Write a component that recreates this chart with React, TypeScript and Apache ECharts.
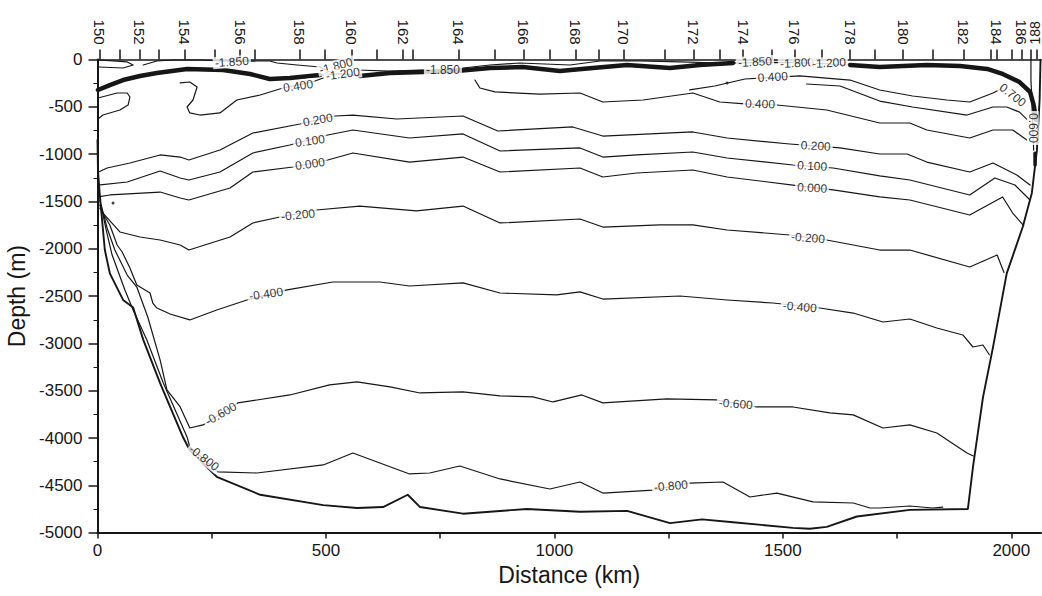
import { useEffect, useRef } from 'react';
import * as echarts from 'echarts';

const FONT = "'Liberation Sans', Arial, Helvetica, sans-serif";
const INK = '#161616';

// CTD stations along the section and their along-track distance (km)
const stationNumbers = [
  150, 151, 152, 153, 154, 155, 156, 157, 158, 159, 160, 161, 162, 163, 164, 165, 166, 167, 168, 169,
  170, 171, 172, 173, 174, 175, 176, 177, 178, 179, 180, 181, 182, 183, 184, 185, 186, 187, 188,
];
const stationKm = [
  5, 49, 93, 133, 191, 257, 312, 345, 442, 498, 556, 612, 669, 691, 790, 870, 932, 990, 1047, 1096,
  1151, 1242, 1304, 1362, 1413, 1475, 1526, 1585, 1647, 1701, 1763, 1829, 1895, 1955, 1968, 2001, 2023, 2043, 2056,
];
const labelledStationKm = stationKm.filter((_, i) => stationNumbers[i] % 2 === 0);

const distanceTicks = [0, 250, 500, 750, 1000, 1250, 1500, 1750, 2000];
const distanceLabels = [0, 500, 1000, 1500, 2000];

type Pt = [number, number];

// Sea floor along the section (km, m)
const seaFloor: Pt[] = [
  [0, -850], [1, -1170], [5, -1430], [16, -2010], [27, -2260], [56, -2540], [78, -2620], [100, -2960],
  [137, -3420], [187, -3990], [202, -4130], [261, -4410], [356, -4600], [494, -4710], [568, -4740],
  [625, -4730], [679, -4600], [706, -4730], [800, -4800], [940, -4750], [1056, -4780], [1159, -4770],
  [1253, -4900], [1323, -4860], [1391, -4890], [1522, -4950], [1559, -4960], [1596, -4940], [1662, -4830],
  [1778, -4760], [1905, -4750], [1916, -4310], [1938, -3570], [1960, -3040], [1990, -2260], [2025, -1770],
  [2045, -1410], [2056, -960], [2062, -420], [2064, 0],
];

// Potential temperature isotherms (degC)
const iso0200: Pt[] = [
  [1, -1190], [21, -1146], [71, -1093], [137, -1008], [181, -1030], [200, -1061], [268, -956], [340, -776],
  [443, -681], [520, -596], [559, -586], [655, -628], [800, -596], [876, -755], [1040, -712], [1106, -808],
  [1303, -765], [1378, -829], [1515, -892], [1625, -934], [1712, -998], [1772, -998], [1815, -1083],
  [1909, -1188], [1960, -1093], [2012, -1220], [2041, -1326],
];
const iso0100: Pt[] = [
  [1, -1326], [65, -1294], [137, -1178], [181, -1252], [200, -1273], [268, -1188], [340, -987], [421, -903],
  [504, -797], [559, -744], [683, -829], [800, -786], [881, -966], [1056, -934], [1106, -1030], [1180, -1008],
  [1303, -977], [1378, -1040], [1522, -1114], [1610, -1146], [1712, -1230], [1778, -1273], [1909, -1431],
  [1964, -1252], [2008, -1326], [2041, -1484],
];
const iso0000: Pt[] = [
  [1, -1452], [27, -1431], [137, -1400], [181, -1463], [200, -1484], [290, -1357], [340, -1188], [428, -1135],
  [504, -1061], [559, -987], [683, -1083], [800, -1030], [881, -1188], [1056, -1146], [1106, -1241],
  [1180, -1199], [1303, -1167], [1378, -1241], [1522, -1326], [1610, -1378], [1712, -1452], [1778, -1484],
  [1909, -1643], [1981, -1452], [2003, -1622], [2027, -1754],
];
const isoM0200: Pt[] = [
  [5, -1537], [12, -1622], [49, -1822], [93, -1875], [137, -1907], [181, -1960], [200, -2013], [290, -1875],
  [340, -1727], [399, -1664], [479, -1590], [574, -1548], [698, -1600], [800, -1548], [881, -1727],
  [1056, -1685], [1106, -1770], [1231, -1748], [1303, -1748], [1378, -1801], [1515, -1854], [1596, -1907],
  [1712, -2013], [1778, -2013], [1909, -2192], [1969, -2066], [1984, -2250],
];
const isoM0400: Pt[] = [
  [5, -1569], [27, -1748], [43, -1960], [54, -2034], [71, -2203], [86, -2383], [115, -2467], [121, -2573],
  [130, -2626], [159, -2689], [202, -2752], [261, -2647], [327, -2541], [415, -2435], [515, -2351],
  [618, -2351], [683, -2393], [800, -2361], [881, -2467], [1005, -2488], [1056, -2456], [1106, -2531],
  [1275, -2499], [1378, -2541], [1478, -2573], [1581, -2626], [1654, -2679], [1719, -2774], [1778, -2742],
  [1837, -2837], [1894, -2911], [1916, -3038], [1938, -3017], [1952, -3120],
];
const isoM0600: Pt[] = [
  [8, -1537], [21, -1780], [38, -2013], [65, -2277], [86, -2404], [110, -2721], [137, -3175], [152, -3492],
  [181, -3672], [202, -3894], [231, -3862], [307, -3629], [349, -3598], [421, -3545], [508, -3439],
  [568, -3407], [640, -3460], [706, -3524], [800, -3513], [881, -3555], [953, -3566], [997, -3619],
  [1060, -3545], [1106, -3629], [1246, -3587], [1355, -3598], [1443, -3672], [1522, -3672], [1603, -3735],
  [1654, -3756], [1719, -3894], [1778, -3862], [1837, -3947], [1903, -4159], [1917, -4190],
];
const isoM0800: Pt[] = [
  [5, -1484], [19, -1801], [32, -2066], [60, -2435], [78, -2647], [108, -2964], [144, -3418], [170, -3703],
  [196, -3989], [202, -4095], [264, -4359], [349, -4370], [494, -4285], [559, -4159], [618, -4264],
  [683, -4380], [727, -4370], [793, -4296], [881, -4433], [990, -4539], [1056, -4465], [1106, -4582],
  [1216, -4550], [1296, -4476], [1369, -4465], [1428, -4624], [1487, -4582], [1566, -4676], [1654, -4687],
  [1691, -4740], [1712, -4740], [1778, -4719], [1828, -4740], [1850, -4730],
];

// Warm-core 0.4 contours under the surface layer
const iso0400West: Pt[] = [
  [1, -406], [43, -353], [65, -353], [71, -395], [67, -480], [49, -533], [12, -586], [1, -628],
];
const iso0400Lobe: Pt[] = [
  [181, -247], [202, -237], [218, -290], [209, -427], [196, -501], [202, -564], [224, -586], [268, -564],
  [305, -427], [356, -374], [406, -300], [470, -237], [494, -195],
];
const iso0400: Pt[] = [
  [826, -216], [837, -300], [870, -342], [968, -364], [1056, -353], [1106, -448], [1194, -427], [1303, -353],
  [1362, -448], [1417, -469], [1487, -480], [1596, -533], [1712, -670], [1778, -670], [1815, -744],
  [1909, -829], [1960, -744], [2003, -744], [2034, -850],
];
const iso0400Upper: Pt[] = [
  [1296, -321], [1351, -279], [1417, -205], [1537, -173], [1647, -216], [1712, -321], [1784, -385],
  [1859, -427], [1909, -448], [1960, -353], [1981, -300],
];
const iso0700: Pt[] = [
  [1552, -258], [1625, -279], [1712, -438], [1784, -501], [1903, -586], [1960, -501], [1990, -501],
  [2018, -555], [2036, -640],
];
const iso0600East: Pt[] = [
  [2043, 0], [2043, -216], [2045, -427], [2047, -744], [2049, -956],
];

// Surface layer (near-freezing water), where the isotherms crowd together
const surfaceBandWest: Pt[] = [
  [1, -321], [27, -269], [56, -216], [93, -173], [130, -142], [196, -99], [275, -110], [334, -152],
  [377, -205], [421, -195], [487, -163],
];
const surfaceBandMid: Pt[] = [
  [574, -173], [640, -142], [713, -131], [786, -121], [859, -89], [931, -78], [1012, -121], [1084, -89],
  [1159, -57], [1253, -89], [1318, -57], [1391, -36],
];
const surfaceBandEast: Pt[] = [
  [1647, -57], [1712, -78], [1815, -57], [1888, -68], [1947, -99], [1981, -152], [2018, -237], [2041, -342],
  [2049, -480], [2054, -638],
];
const surfaceLinkWest: Pt[] = [[487, -163], [530, -150], [574, -173]];
const surfaceLinkEast: Pt[] = [[1391, -36], [1478, -30], [1560, -36], [1647, -57]];
const iso1850West: Pt[] = [
  [100, -57], [130, -15], [166, -4], [224, -4], [294, -20], [349, -15], [377, -15], [393, -36], [437, -57],
  [487, -78], [504, -121],
];
const iso1850Corner: Pt[] = [[3, -4], [65, -25], [78, -57], [56, -89], [3, -78]];
const iso1850Mid: Pt[] = [
  [568, -110], [640, -121], [706, -110], [756, -108], [800, -89], [859, -57], [924, -36], [1034, -57],
  [1100, -15], [1188, -15], [1275, -25], [1362, -36],
];
const eastSlopeMark: Pt[] = [[2052, -990], [2052, -1114]];

// Inline contour labels: text, distance, depth, text angle
const contourLabels: { text: string; km: number; depth: number; angle: number }[] = [
  { text: '-1.850', km: 294, depth: -25, angle: 4 },
  { text: '-1.800', km: 522, depth: -68, angle: 15 },
  { text: '-1.200', km: 537, depth: -152, angle: 8 },
  { text: '-1.850', km: 756, depth: -110, angle: 0 },
  { text: '0.400', km: 439, depth: -279, angle: 8 },
  { text: '0.200', km: 482, depth: -638, angle: 10 },
  { text: '0.100', km: 465, depth: -861, angle: 8 },
  { text: '0.000', km: 465, depth: -1104, angle: 8 },
  { text: '-0.200', km: 439, depth: -1643, angle: 6 },
  { text: '-0.400', km: 369, depth: -2478, angle: 8 },
  { text: '-0.600', km: 270, depth: -3745, angle: 30 },
  { text: '-0.800', km: 233, depth: -4212, angle: -38 },
  { text: '-1.850', km: 1439, depth: -25, angle: 3 },
  { text: '-1.800', km: 1531, depth: -36, angle: 3 },
  { text: '-1.200', km: 1601, depth: -36, angle: 3 },
  { text: '0.400', km: 1478, depth: -184, angle: 4 },
  { text: '0.400', km: 1450, depth: -469, angle: -2 },
  { text: '0.200', km: 1572, depth: -913, angle: -3 },
  { text: '0.100', km: 1564, depth: -1125, angle: -3 },
  { text: '0.000', km: 1564, depth: -1357, angle: -3 },
  { text: '-0.200', km: 1555, depth: -1886, angle: -4 },
  { text: '-0.400', km: 1537, depth: -2615, angle: -5 },
  { text: '-0.600', km: 1397, depth: -3640, angle: -4 },
  { text: '-0.800', km: 1255, depth: -4507, angle: 5 },
  { text: '0.700', km: 2003, depth: -374, angle: -38 },
  { text: '0.600', km: 2047, depth: -723, angle: -90 },
];

// Isolated specks (tiny closed contours)
const specks: Pt[] = [[34, -1517], [1378, -247]];

const stationLabel = (v: number) => {
  let best = 0;
  for (let i = 1; i < stationKm.length; i++) {
    if (Math.abs(stationKm[i] - v) < Math.abs(stationKm[best] - v)) best = i;
  }
  return String(stationNumbers[best]);
};

const contour = (data: Pt[], width = 1.2) => ({
  type: 'line',
  data,
  showSymbol: false,
  symbol: 'none',
  silent: true,
  z: 2,
  lineStyle: { color: INK, width, cap: 'round', join: 'round' },
});

export default function App() {
  const ref = useRef<HTMLDivElement>(null);

  useEffect(() => {
    if (!ref.current) return;
    const chart = echarts.init(ref.current, undefined, { renderer: 'svg' });
    const thin = [
      iso0200, iso0100, iso0000, isoM0200, isoM0400, isoM0600, isoM0800,
      iso0400West, iso0400Lobe, iso0400, iso0400Upper, iso0700, iso0600East,
      surfaceLinkWest, surfaceLinkEast, iso1850West, iso1850Corner, iso1850Mid,
    ];
    // the easternmost station label sits against the frame edge; it is drawn
    // separately below so it can be nudged inside the canvas
    const edgeKm = labelledStationKm[labelledStationKm.length - 1];
    const axisStationKm = labelledStationKm.slice(0, -1);

    const option: any = {
      animation: false,
      backgroundColor: '#ffffff',
      textStyle: { fontFamily: FONT },
      grid: { left: 97.5, right: 1, top: 59.6, bottom: 63.4, outerBoundsMode: 'none' },
      xAxis: [
        {
          type: 'value',
          position: 'bottom',
          min: 0,
          max: 2065,
          axisLine: { show: true, onZero: false, lineStyle: { color: INK, width: 2 } },
          axisTick: { show: true, customValues: distanceTicks, length: 6, lineStyle: { color: INK, width: 1.5 } },
          axisLabel: {
            customValues: distanceLabels,
            color: INK,
            fontSize: 17,
            margin: 9,
            fontFamily: FONT,
            formatter: (v: number) => String(v),
          },
          splitLine: { show: false },
          name: 'Distance (km)',
          nameLocation: 'middle',
          nameGap: 31,
          nameTextStyle: { color: INK, fontSize: 23, fontFamily: FONT },
        },
        {
          type: 'value',
          position: 'top',
          min: 0,
          max: 2065,
          axisLine: { show: true, onZero: false, lineStyle: { color: INK, width: 1.5 } },
          axisTick: { show: true, customValues: stationKm, length: 10, lineStyle: { color: INK, width: 1.5 } },
          axisLabel: {
            customValues: axisStationKm,
            rotate: 90,
            color: INK,
            fontSize: 15,
            margin: 15,
            fontFamily: FONT,
            hideOverlap: false,
            formatter: (v: number) => stationLabel(v),
          },
          splitLine: { show: false },
        },
      ],
      yAxis: {
        type: 'value',
        min: -5000,
        max: 0,
        interval: 500,
        axisLine: { show: true, onZero: false, lineStyle: { color: INK, width: 2 } },
        axisTick: { show: true, length: 9, lineStyle: { color: INK, width: 1.5 } },
        minorTick: { show: true, splitNumber: 2, length: 4, lineStyle: { color: INK, width: 1 } },
        axisLabel: { color: INK, fontSize: 17, margin: 15, fontFamily: FONT, formatter: (v: number) => String(v) },
        splitLine: { show: false },
        name: 'Depth (m)',
        nameLocation: 'middle',
        nameGap: 52,
        nameRotate: 90,
        nameTextStyle: { color: INK, fontSize: 23, fontFamily: FONT },
      },
      series: [
        ...thin.map((d) => contour(d, 1.2)),
        contour(surfaceBandWest, 4.5),
        contour(surfaceBandMid, 4.5),
        contour(surfaceBandEast, 4.5),
        contour(eastSlopeMark, 3.5),
        contour(seaFloor, 1.9),
        {
          type: 'scatter',
          data: specks,
          symbol: 'circle',
          symbolSize: 3,
          silent: true,
          z: 3,
          itemStyle: { color: INK },
        },
        {
          type: 'scatter',
          silent: true,
          z: 5,
          symbolSize: 0,
          itemStyle: { color: INK },
          data: contourLabels.map((l) => ({
            name: l.text,
            value: [l.km, l.depth],
            label: { rotate: l.angle },
          })),
          label: {
            show: true,
            position: 'inside',
            formatter: '{b}',
            color: '#000',
            fontSize: 12,
            fontFamily: FONT,
            textBorderWidth: 0,
            textBorderColor: 'transparent',
            backgroundColor: '#ffffff',
            padding: [0, 2],
          },
        },
      ],
    };
    chart.setOption(option);

    const edgeX = chart.convertToPixel({ xAxisIndex: 1 }, edgeKm) as number;
    const axisTop = chart.convertToPixel({ yAxisIndex: 0 }, 0) as number;
    chart.setOption({
      graphic: [
        {
          type: 'text',
          x: edgeX - 2,
          y: axisTop - 15,
          rotation: Math.PI / 2,
          silent: true,
          style: {
            text: stationLabel(edgeKm),
            fill: INK,
            fontSize: 14,
            fontFamily: FONT,
            align: 'left',
            verticalAlign: 'middle',
          },
        },
      ],
    });
    return () => chart.dispose();
  }, []);

  return (
    <div
      ref={ref}
      style={{ position: 'fixed', left: 0, top: 0, width: 1042, height: 596, background: '#fff' }}
    />
  );
}
